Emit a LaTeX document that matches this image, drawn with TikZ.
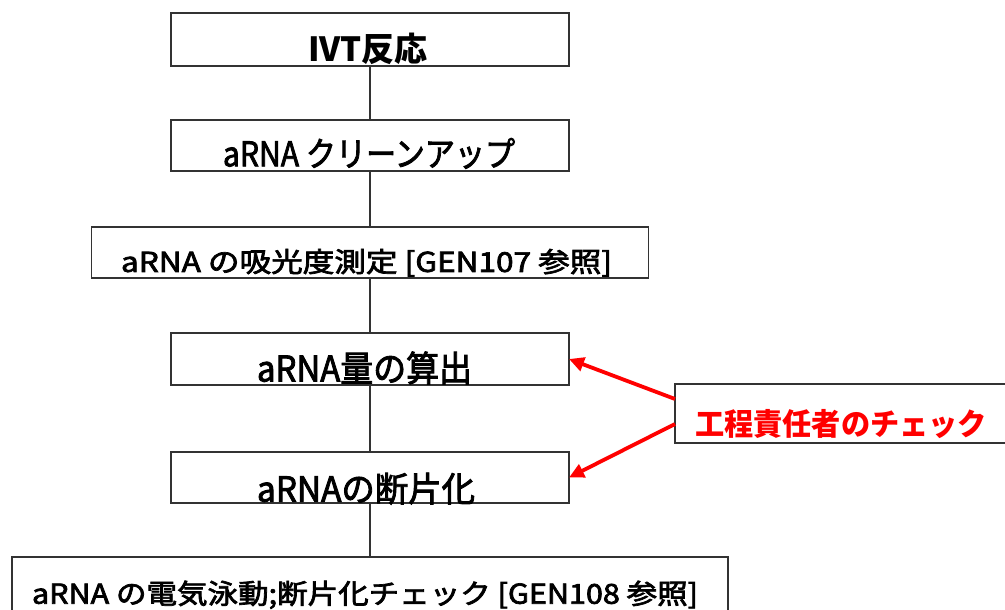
\documentclass[tikz,border=0pt]{standalone}
\usepackage{fontspec}
\setmainfont{Noto Sans CJK JP}
\newfontfamily\medfont{Noto Sans CJK JP}[FakeBold=2.5]
\usetikzlibrary{arrows.meta,calc}
\tikzset{
  box/.style={draw=black!80, line width=1.2pt, fill=white, inner sep=0pt, outer sep=0pt},
  lbl/.style={inner sep=0pt, outer sep=0pt, anchor=south west},
  link/.style={draw=black!80, line width=1.3pt},
  redarrow/.style={draw=red, line width=3.8pt, -{Triangle[length=15pt,width=14pt]}},
}
% width, em size (px), text : the em box of the text is scaled to the given size
\newcommand{\fitlabel}[3]{\resizebox*{#1pt}{#2pt}{\rule[-0.12em]{0pt}{1em}\smash{#3}}}
\begin{document}
\begin{tikzpicture}[x=1pt,y=-1pt]
\useasboundingbox (0,0) rectangle (1005,610);
% boxes
\node[box, minimum width=398pt, minimum height=53pt] (b1) at (370,39.5) {};
\node[box, minimum width=398pt, minimum height=51pt] (b2) at (370,145.5) {};
\node[box, minimum width=557pt, minimum height=51pt] (b3) at (370,252.5) {};
\node[box, minimum width=398pt, minimum height=52pt] (b4) at (370,359) {};
\node[box, minimum width=398pt, minimum height=51pt] (b5) at (370,477.5) {};
\node[box, minimum width=716pt, minimum height=83pt] (b6) at (370,598.5) {};
\node[box, minimum width=335pt, minimum height=59pt] (chk) at (842.5,413.5) {};
% connectors
\draw[link] (b1.south) -- (b2.north);
\draw[link] (b2.south) -- (b3.north);
\draw[link] (b3.south) -- (b4.north);
\draw[link] (b4.south) -- (b5.north);
\draw[link] (b5.south) -- (b6.north);
\coordinate (s1) at ($(chk.west)+(0,-14.5)$);
\coordinate (s2) at ($(chk.west)+(0,10.5)$);
\draw[redarrow] (s1) -- (b4.east);
\draw[redarrow] (s2) -- (b5.east);
% labels
\node[lbl] (t1) at (308,65.7) {\fitlabel{120}{33.3}{\bfseries IVT反応}};
\node[lbl] (t2) at (223,170.4) {\fitlabel{292}{34}{\medfont aRNA クリーンアップ}};
\node[lbl] (t3) at (121,275.2) {\fitlabel{491}{27.4}{\medfont aRNA の吸光度測定 [GEN107 参照]}};
\node[lbl] (t4) at (257,385.8) {\fitlabel{215}{35.5}{\medfont aRNA量の算出}};
\node[lbl] (t5) at (257,505.8) {\fitlabel{218}{34.5}{\medfont aRNAの断片化}};
\node[lbl] (t6) at (32,607) {\fitlabel{666}{27.4}{\medfont aRNA の電気泳動;断片化チェック [GEN108 参照]}};
\node[lbl] (t7) at (695,439.5) {\fitlabel{292}{30.5}{\color{red}\bfseries 工程責任者のチェック}};
\end{tikzpicture}
\end{document}
